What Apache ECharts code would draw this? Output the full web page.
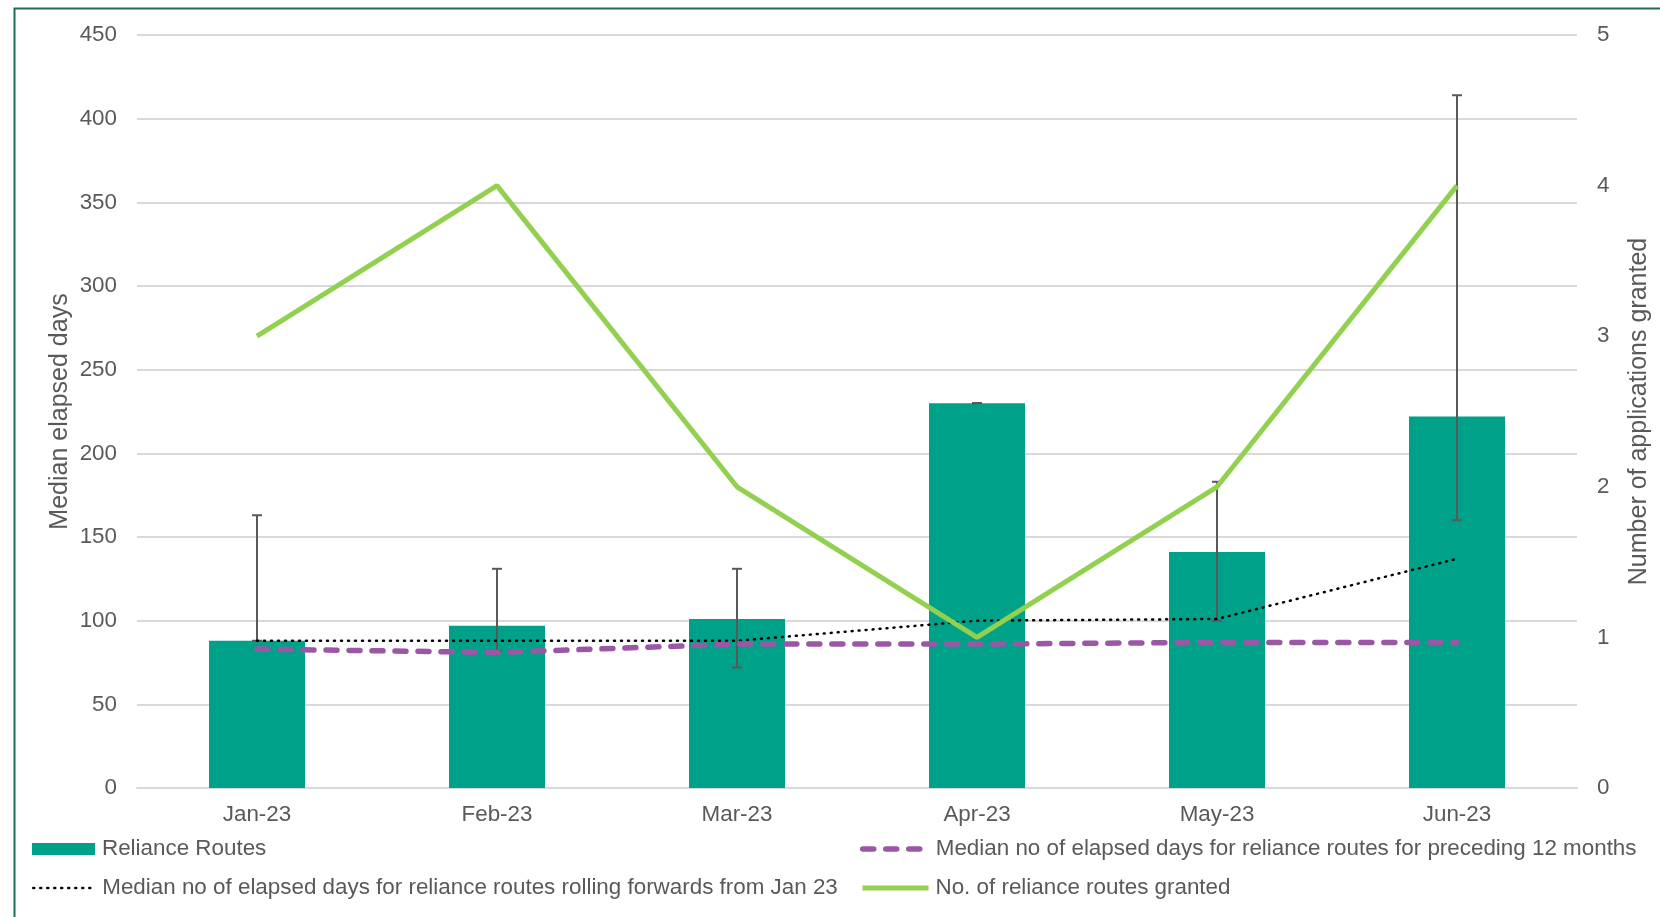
<!DOCTYPE html>
<html>
<head>
<meta charset="utf-8">
<style>
  html, body { margin: 0; padding: 0; background: #ffffff; }
  #chart { width: 1660px; height: 917px; }
</style>
<script src="https://cdn.jsdelivr.net/npm/echarts@6/dist/echarts.min.js"></script>
</head>
<body>
<div id="chart"></div>
<script>
const categories = ['Jan-23', 'Feb-23', 'Mar-23', 'Apr-23', 'May-23', 'Jun-23'];
const medianDays = [88, 97, 101, 230, 141, 222];
const errLow = [88, 82, 72, 230, 100, 160];
const errHigh = [163, 131, 131, 230, 183, 414];
const rollingMedian = [88, 88, 88, 100, 101, 137];
const preceding12 = [83, 81, 86, 86, 87, 87];
const granted = [3, 4, 2, 1, 2, 4];

const nameBars = 'Reliance Routes';
const namePrec = 'Median no of elapsed days for reliance routes for preceding 12 months';
const nameRoll = 'Median no of elapsed days for reliance routes rolling forwards from Jan 23';
const nameGranted = 'No. of reliance routes granted';

const FONT = "'Liberation Sans', Arial, sans-serif";
const TXT = '#595959';

const errData = categories.map((c, i) => [i, errLow[i], errHigh[i]]);

const chart = echarts.init(document.getElementById('chart'));

function legendAt(left, top, name, extra) {
  return Object.assign({
    left: left, top: top, orient: 'horizontal', padding: 0,
    itemWidth: 66, itemHeight: 12, itemGap: 8,
    selectedMode: false,
    itemStyle: { opacity: 0 },
    textStyle: { fontFamily: FONT, fontSize: 22.4, color: TXT, padding: [0, 0, 0, 2] },
    data: [name]
  }, extra || {});
}

chart.setOption({
  animation: false,
  backgroundColor: '#ffffff',
  textStyle: { fontFamily: FONT },
  graphic: [{
    type: 'rect', left: 12, top: 6,
    shape: { x: 0, y: 0, width: 1700, height: 1000 },
    style: { fill: 'none', stroke: '#1d6b58', lineWidth: 2 },
    silent: true
  }],
  grid: { left: 137, right: 81, top: 35, bottom: 129, containLabel: false },
  legend: [
    legendAt(32, 838, nameBars, { icon: 'rect', itemWidth: 63, itemHeight: 12, itemStyle: {} }),
    legendAt(860, 838, namePrec, { lineStyle: { width: 5.5 } }),
    legendAt(32, 877, nameRoll, { itemWidth: 62, lineStyle: { width: 2.5 } }),
    legendAt(860, 877, nameGranted, { lineStyle: { width: 5 } })
  ],
  xAxis: {
    type: 'category', data: categories, boundaryGap: true,
    axisTick: { show: false },
    axisLine: { lineStyle: { color: '#d9d9d9', width: 2 } },
    axisLabel: { color: TXT, fontSize: 22.4, fontFamily: FONT, margin: 16 }
  },
  yAxis: [{
    type: 'value', min: 0, max: 450, interval: 50,
    name: 'Median elapsed days', nameLocation: 'middle', nameGap: 64, nameRotate: 90,
    nameMoveOverlap: false,
    nameTextStyle: { color: TXT, fontSize: 25, fontFamily: FONT },
    axisLine: { show: false }, axisTick: { show: false },
    axisLabel: { color: TXT, fontSize: 22.4, fontFamily: FONT, margin: 20 },
    splitLine: { lineStyle: { color: '#d9d9d9', width: 2 } }
  }, {
    type: 'value', min: 0, max: 5, interval: 1,
    name: 'Number of applications granted', nameLocation: 'middle', nameGap: 50, nameRotate: 90,
    nameMoveOverlap: false,
    nameTextStyle: { color: TXT, fontSize: 25, fontFamily: FONT },
    axisLine: { show: false }, axisTick: { show: false },
    axisLabel: { color: TXT, fontSize: 22.4, fontFamily: FONT, margin: 20 },
    splitLine: { show: false }
  }],
  series: [{
    name: nameBars, type: 'bar', data: medianDays, barWidth: '40%',
    itemStyle: { color: '#00a189' }, z: 2
  }, {
    name: 'err', type: 'custom', data: errData, z: 3,
    encode: { x: 0, y: [1, 2] },
    renderItem: function (params, api) {
      const x = api.value(0);
      const lo = api.coord([x, api.value(1)]);
      const hi = api.coord([x, api.value(2)]);
      const hw = 5;
      const style = { stroke: '#595959', lineWidth: 2, fill: null };
      return {
        type: 'group', children: [
          { type: 'line', shape: { x1: lo[0], y1: lo[1], x2: hi[0], y2: hi[1] }, style: style },
          { type: 'line', shape: { x1: hi[0] - hw, y1: hi[1], x2: hi[0] + hw, y2: hi[1] }, style: style },
          { type: 'line', shape: { x1: lo[0] - hw, y1: lo[1], x2: lo[0] + hw, y2: lo[1] }, style: style }
        ]
      };
    }
  }, {
    name: nameRoll, type: 'line', data: rollingMedian, symbol: 'none', z: 4,
    lineStyle: { color: '#000000', width: 2.5, type: [1, 6], cap: 'round' },
    itemStyle: { color: '#000000' }
  }, {
    name: namePrec, type: 'line', data: preceding12, symbol: 'none', z: 5,
    lineStyle: { color: '#9b57a6', width: 5.5, type: [11, 12], cap: 'round' },
    itemStyle: { color: '#9b57a6' }
  }, {
    name: nameGranted, type: 'line', yAxisIndex: 1, data: granted, symbol: 'none', z: 6,
    lineStyle: { color: '#92d050', width: 5 },
    itemStyle: { color: '#92d050' }
  }]
});
</script>
</body>
</html>
